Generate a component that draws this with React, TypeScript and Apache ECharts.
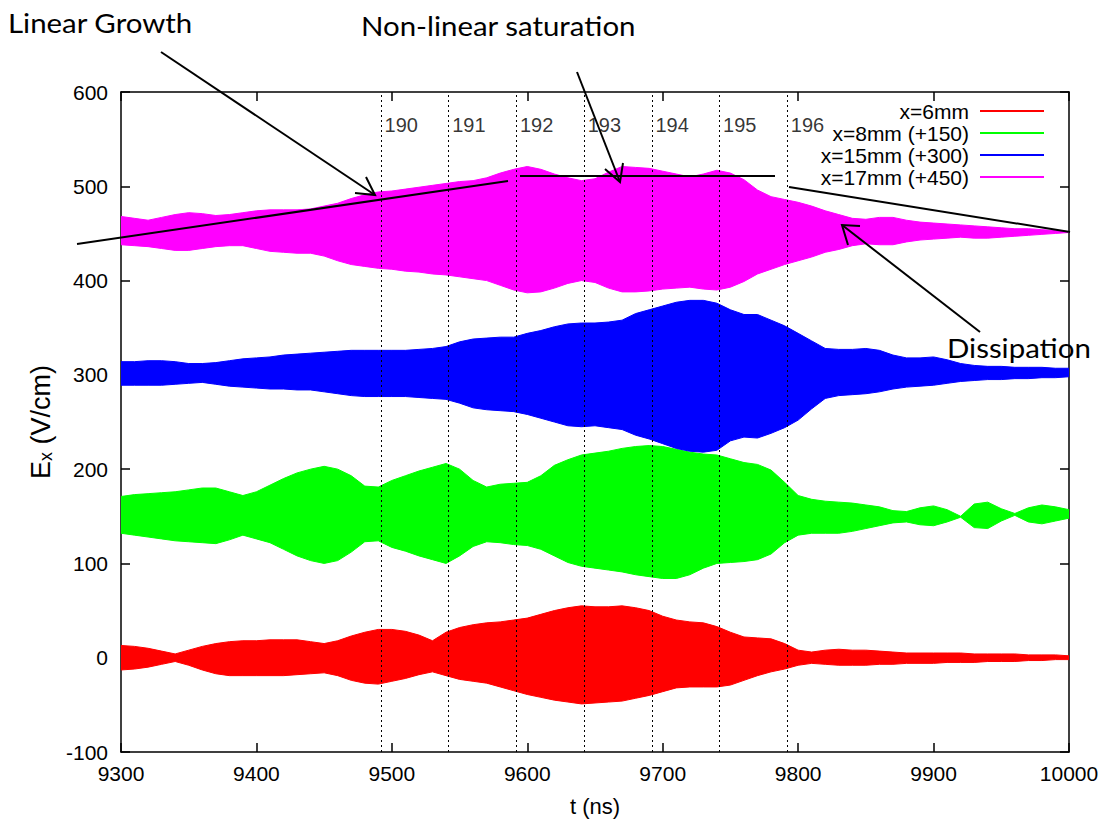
import React, { useEffect, useRef } from "react";
import * as echarts from "echarts";

const times = [
  9300, 9310, 9320, 9330, 9340, 9350, 9360, 9370, 9380, 9390,
  9400, 9410, 9420, 9430, 9440, 9450, 9460, 9470, 9480, 9490,
  9500, 9510, 9520, 9530, 9540, 9550, 9560, 9570, 9580, 9590,
  9600, 9610, 9620, 9630, 9640, 9650, 9660, 9670, 9680, 9690,
  9700, 9710, 9720, 9730, 9740, 9750, 9760, 9770, 9780, 9790,
  9800, 9810, 9820, 9830, 9840, 9850, 9860, 9870, 9880, 9890,
  9900, 9910, 9920, 9930, 9940, 9950, 9960, 9970, 9980, 9990,
  10000,
];

// x=6mm (red) envelope
const redUpper = [
  13, 12, 10, 7, 4, 8, 12, 15, 17, 18,
  18, 19, 19, 19, 17, 15, 18, 23, 27, 30,
  30, 28, 24, 18, 27, 32, 35, 37, 38, 40,
  42, 46, 50, 53, 55, 54, 54, 55, 53, 50,
  44, 40, 38, 37, 33, 27, 22, 21, 20, 15,
  8, 6, 8, 9, 8, 8, 7, 6, 5, 5,
  5, 5, 5, 4, 4, 4, 4, 3, 3, 3,
  2,
];
const redLower = [
  -13, -12, -10, -7, -4, -8, -13, -17, -19, -19,
  -19, -19, -19, -18, -17, -16, -19, -24, -27, -28,
  -25, -22, -18, -15, -19, -23, -25, -27, -31, -35,
  -39, -42, -45, -47, -49, -48, -47, -46, -43, -40,
  -36, -32, -31, -31, -31, -29, -24, -19, -15, -12,
  -8, -6, -7, -8, -8, -8, -7, -7, -6, -6,
  -6, -5, -5, -5, -4, -4, -4, -3, -3, -2,
  -2,
];

// x=8mm (+150) (green) envelope
const greenUpper = [
  171, 173, 174, 175, 176, 178, 180, 180, 176, 172,
  176, 183, 190, 196, 200, 203, 200, 193, 182, 181,
  188, 193, 198, 202, 206, 200, 188, 181, 184, 185,
  186, 193, 204, 210, 215, 217, 219, 222, 224, 225,
  224, 221, 218, 216, 215, 211, 207, 205, 199, 186,
  172, 168, 166, 165, 164, 162, 160, 156, 155, 159,
  161, 157, 150, 163, 165, 158, 153, 159, 162, 160,
  157,
];
const greenLower = [
  132, 130, 128, 126, 124, 123, 122, 121, 125, 130,
  126, 122, 115, 108, 103, 100, 103, 112, 123, 124,
  117, 113, 108, 104, 100, 108, 118, 123, 122, 120,
  119, 115, 108, 101, 97, 95, 93, 91, 88, 86,
  84, 84, 88, 95, 100, 101, 102, 104, 110, 122,
  130, 132, 132, 132, 134, 137, 140, 143, 144, 141,
  140, 144, 149, 138, 137, 145, 151, 144, 142, 145,
  148,
];

// x=15mm (+300) (blue) envelope
const blueUpper = [
  314, 314, 315, 315, 314, 312, 312, 313, 315, 317,
  318, 319, 321, 322, 323, 324, 325, 326, 326, 326,
  326, 326, 327, 328, 330, 335, 338, 339, 340, 340,
  344, 347, 351, 354, 355, 355, 356, 358, 365, 369,
  373, 377, 379, 379, 376, 369, 364, 364, 358, 352,
  344, 336, 328, 327, 327, 328, 326, 321, 318, 318,
  319, 316, 312, 310, 309, 309, 308, 308, 308, 307,
  307,
];
const blueLower = [
  289, 289, 289, 289, 290, 291, 292, 290, 288, 287,
  286, 285, 285, 284, 284, 282, 280, 278, 277, 277,
  277, 277, 276, 275, 274, 270, 265, 263, 262, 261,
  258, 254, 250, 246, 245, 246, 244, 242, 236, 232,
  227, 222, 219, 218, 220, 230, 234, 233, 238, 244,
  252, 264, 275, 278, 279, 280, 282, 285, 287, 288,
  289, 291, 293, 294, 295, 295, 296, 296, 297, 297,
  298,
];

// x=17mm (+450) (magenta) envelope
const magentaUpper = [
  468, 466, 464, 467, 470, 472, 471, 469, 470, 472,
  474, 475, 475, 475, 476, 479, 482, 487, 491, 494,
  495, 497, 499, 501, 503, 505, 506, 509, 514, 518,
  521, 518, 513, 509, 506, 508, 515, 521, 520, 519,
  516, 513, 510, 513, 517, 514, 507, 496, 489, 486,
  483, 479, 474, 470, 466, 465, 467, 467, 464, 462,
  461, 460, 459, 458, 457, 456, 455, 455, 454, 453,
  452,
];
const magentaLower = [
  438, 437, 436, 434, 432, 432, 434, 436, 437, 437,
  434, 431, 430, 429, 429, 426, 421, 417, 415, 413,
  412, 410, 409, 407, 406, 404, 402, 400, 395, 390,
  387, 388, 392, 397, 400, 398, 392, 388, 388, 389,
  391, 392, 393, 391, 390, 393, 399, 407, 412, 417,
  421, 425, 430, 433, 437, 439, 438, 438, 441, 443,
  444, 445, 446, 445, 445, 446, 447, 448, 449, 450,
  451,
];

const seriesNames = ["x=6mm", "x=8mm (+150)", "x=15mm (+300)", "x=17mm (+450)"];
const seriesColors = ["#ff0000", "#00ff00", "#0000ff", "#ff00ff"];

const guideTimes = [9492, 9542, 9592, 9642, 9692, 9742, 9792];
const guideLabels = ["190", "191", "192", "193", "194", "195", "196"];
const guideLabelLevel = 565;

const xTicks = { min: 9300, max: 10000, interval: 100 };
const yTicks = { min: -100, max: 600, interval: 100 };

const GNU_FONT = "'Liberation Sans', Arial, Helvetica, sans-serif";
const ANNOT_FONT = "Lato, 'Open Sans', sans-serif";

function bandSeries(name: string, color: string, upper: number[], lower: number[]) {
  return {
    type: "custom",
    name,
    xAxisIndex: 0,
    yAxisIndex: 0,
    data: times.map((t, i) => [t, lower[i], upper[i]]),
    encode: { x: 0, y: [1, 2] },
    itemStyle: { color },
    clip: true,
    z: 2,
    renderItem: (params: any, api: any) => {
      if (params.dataIndex !== 0) return null;
      const pts: number[][] = [];
      for (let i = 0; i < times.length; i++) pts.push(api.coord([times[i], upper[i]]));
      for (let i = times.length - 1; i >= 0; i--) pts.push(api.coord([times[i], lower[i]]));
      return {
        type: "polygon",
        shape: { points: pts },
        style: { fill: color, stroke: color, lineWidth: 1 },
      };
    },
  };
}

const LINE = { stroke: "#000", lineWidth: 2 };

function annotText(text: string, x: number, y: number) {
  return {
    type: "text",
    x,
    y,
    scaleX: 1.09,
    z: 100,
    style: { text, font: `27px ${ANNOT_FONT}`, fill: "#000", verticalAlign: "middle", align: "left" },
  };
}

export default function App() {
  const ref = useRef<HTMLDivElement>(null);
  useEffect(() => {
    if (!ref.current) return;
    const chart = echarts.init(ref.current, null, { renderer: "svg" });
    const axisFont = { fontFamily: GNU_FONT, fontSize: 21, color: "#000" };
    const axisLineStyle = { show: true, onZero: false, lineStyle: { color: "#000", width: 1.5 } };
    const tickStyle = { inside: true, length: 9, lineStyle: { color: "#000", width: 1.5 } };
    const option: any = {
      animation: false,
      backgroundColor: "#fff",
      grid: { left: 121, right: 36, top: 92, bottom: 70 },
      xAxis: [
        {
          type: "value",
          ...xTicks,
          position: "bottom",
          name: "t (ns)",
          nameLocation: "middle",
          nameGap: 43,
          nameTextStyle: { ...axisFont, fontSize: 22 },
          axisLine: axisLineStyle,
          axisTick: tickStyle,
          axisLabel: { ...axisFont, margin: 11, formatter: (v: number) => String(v) },
          splitLine: { show: false },
        },
        {
          type: "value",
          ...xTicks,
          position: "top",
          axisLine: axisLineStyle,
          axisTick: tickStyle,
          axisLabel: { show: false },
          splitLine: { show: false },
        },
      ],
      yAxis: [
        {
          type: "value",
          ...yTicks,
          position: "left",
          name: "{a|E}{b|x}{a| (V/cm)}",
          nameLocation: "middle",
          nameGap: 38,
          nameRotate: 90,
          nameTextStyle: {
            rich: {
              a: { fontFamily: GNU_FONT, fontSize: 27, color: "#000" },
              b: { fontFamily: GNU_FONT, fontSize: 18, color: "#000", padding: [11, 0, 0, 0] },
            },
          },
          axisLine: axisLineStyle,
          axisTick: tickStyle,
          axisLabel: { ...axisFont, margin: 13, formatter: (v: number) => String(v) },
          splitLine: { show: false },
        },
        {
          type: "value",
          ...yTicks,
          position: "right",
          axisLine: axisLineStyle,
          axisTick: tickStyle,
          axisLabel: { show: false },
          splitLine: { show: false },
        },
      ],
      legend: {
        data: seriesNames.map((n) => ({ name: n, icon: "rect" })),
        orient: "vertical",
        align: "right",
        right: 61,
        top: 100,
        padding: 0,
        itemWidth: 64,
        itemHeight: 2,
        itemGap: 0,
        selectedMode: false,
        textStyle: {
          fontFamily: GNU_FONT,
          fontSize: 21,
          lineHeight: 22,
          color: "#000",
          padding: [0, 6, 0, 0],
        },
      },
      series: [
        bandSeries(seriesNames[0], seriesColors[0], redUpper, redLower),
        bandSeries(seriesNames[1], seriesColors[1], greenUpper, greenLower),
        bandSeries(seriesNames[2], seriesColors[2], blueUpper, blueLower),
        bandSeries(seriesNames[3], seriesColors[3], magentaUpper, magentaLower),
        {
          type: "scatter",
          name: "guides",
          xAxisIndex: 0,
          yAxisIndex: 0,
          data: guideTimes.map((t, i) => ({ value: [t, guideLabelLevel], label: { formatter: guideLabels[i] } })),
          symbolSize: 1,
          itemStyle: { color: "transparent" },
          z: 5,
          label: {
            show: true,
            position: "right",
            distance: 3,
            fontFamily: GNU_FONT,
            fontSize: 20,
            color: "#000",
          },
          markLine: {
            silent: true,
            symbol: ["none", "none"],
            label: { show: false },
            lineStyle: { color: "#000", width: 1, type: [2, 3], opacity: 1 },
            data: guideTimes.map((t) => ({ xAxis: t })),
            z: 6,
          },
        },
      ],
      graphic: [
        annotText("Linear Growth", 8, 22),
        annotText("Non-linear saturation", 361, 25),
        annotText("Dissipation", 947, 347),
        // linear growth fit line and arrow
        { type: "line", z: 100, shape: { x1: 77, y1: 244, x2: 508, y2: 181 }, style: LINE },
        { type: "line", z: 100, shape: { x1: 161, y1: 52, x2: 375, y2: 195 }, style: LINE },
        { type: "polyline", z: 100, shape: { points: [[355, 193], [375, 195], [366, 177]] }, style: { ...LINE, fill: null } },
        // saturation level line and arrow
        { type: "line", z: 100, shape: { x1: 520, y1: 176, x2: 775, y2: 176 }, style: LINE },
        { type: "line", z: 100, shape: { x1: 577, y1: 72, x2: 620, y2: 182 }, style: LINE },
        { type: "polyline", z: 100, shape: { points: [[605, 169], [620, 182], [623, 163]] }, style: { ...LINE, fill: null } },
        // dissipation line and arrow
        { type: "line", z: 100, shape: { x1: 789, y1: 187, x2: 1070, y2: 232 }, style: LINE },
        { type: "line", z: 100, shape: { x1: 842, y1: 225, x2: 980, y2: 332 }, style: LINE },
        { type: "polyline", z: 100, shape: { points: [[860, 226], [842, 225], [848, 245]] }, style: { ...LINE, fill: null } },
      ],
    };
    chart.setOption(option);
    return () => chart.dispose();
  }, []);
  return (
    <div
      ref={ref}
      style={{ position: "fixed", left: 0, top: 0, width: 1105, height: 822, background: "#fff" }}
    />
  );
}
